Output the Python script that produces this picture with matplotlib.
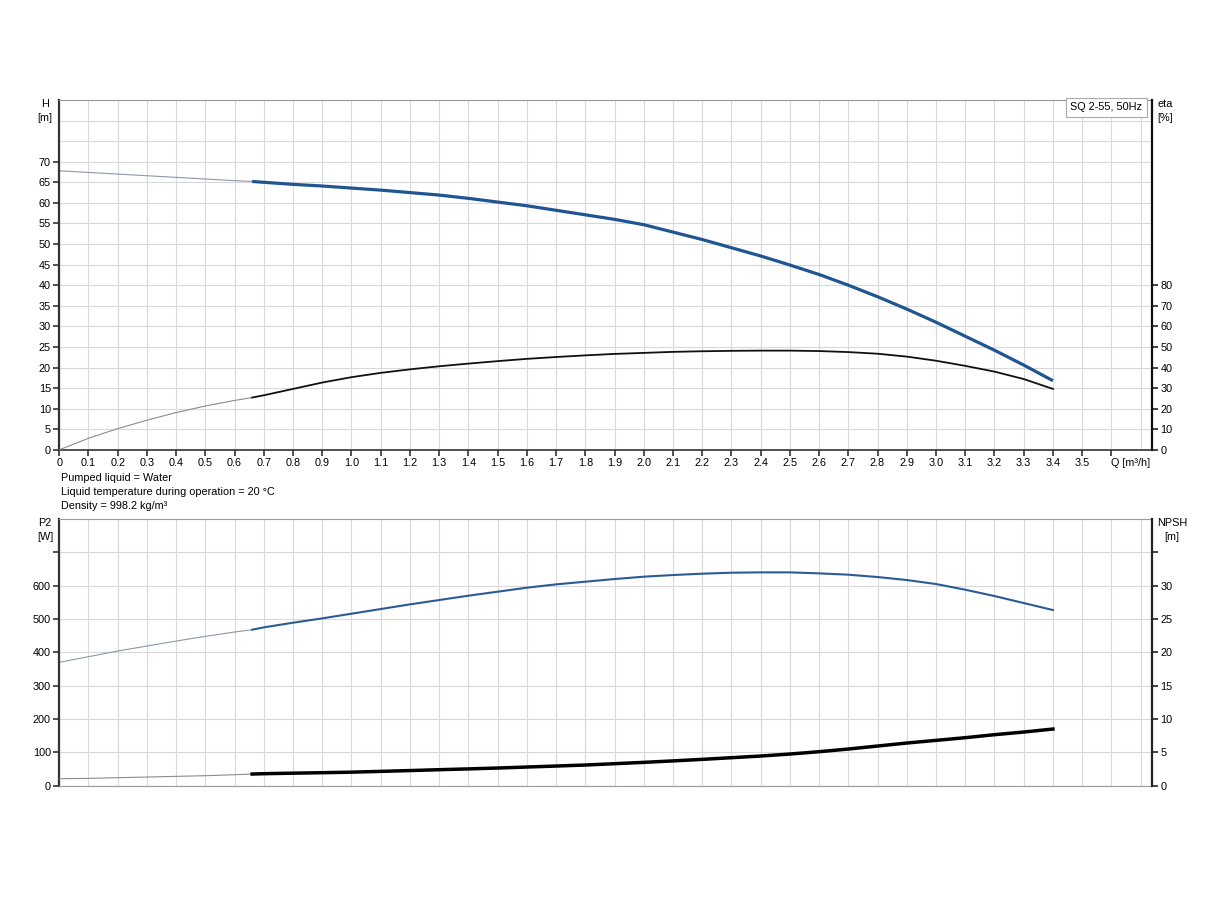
import numpy as np
import matplotlib
matplotlib.use("Agg")
import matplotlib.pyplot as plt

plt.rcParams['font.family'] = ['Liberation Sans', 'DejaVu Sans']
plt.rcParams['font.size'] = 7.8

# Flow points (m3/h); duty range starts at q_start
q = [0, 0.1, 0.2, 0.3, 0.4, 0.5, 0.6, 0.66, 0.7, 0.8, 0.9, 1.0, 1.1, 1.2, 1.3,
     1.4, 1.5, 1.6, 1.7, 1.8, 1.9, 2.0, 2.1, 2.2, 2.3, 2.4, 2.5, 2.6, 2.7, 2.8,
     2.9, 3.0, 3.1, 3.2, 3.3, 3.4]
q_start = 0.66

# Head H [m]
head = [67.8, 67.4, 67.0, 66.6, 66.2, 65.8, 65.4, 65.2, 65.0, 64.5, 64.1, 63.6,
        63.1, 62.5, 61.9, 61.1, 60.2, 59.3, 58.2, 57.1, 56.0, 54.7, 52.9, 51.1,
        49.1, 47.1, 44.9, 42.6, 40.0, 37.2, 34.2, 31.0, 27.6, 24.2, 20.6, 16.8]
# Efficiency eta [%]
eta = [0, 5.6, 10.3, 14.4, 18.1, 21.3, 24.0, 25.4, 26.5, 29.6, 32.7, 35.3, 37.4,
       39.1, 40.6, 41.9, 43.1, 44.2, 45.1, 45.9, 46.6, 47.1, 47.6, 47.9, 48.1,
       48.2, 48.2, 48.0, 47.5, 46.7, 45.3, 43.3, 40.8, 38.0, 34.4, 29.6]
# Shaft power P2 [W]
p2 = [370, 387, 404, 419, 434, 448, 461, 468, 475, 489, 502, 516, 530, 544, 557,
      570, 582, 594, 604, 612, 620, 627, 632, 636, 639, 640, 640, 637, 633, 626,
      617, 605, 588, 569, 548, 527]
# NPSH [m]
npsh = [1.05, 1.1, 1.2, 1.3, 1.4, 1.5, 1.65, 1.75, 1.8, 1.88, 1.95, 2.03, 2.15,
        2.27, 2.4, 2.52, 2.65, 2.8, 2.95, 3.1, 3.3, 3.5, 3.72, 3.95, 4.2, 4.45,
        4.75, 5.1, 5.5, 5.95, 6.4, 6.8, 7.2, 7.65, 8.05, 8.5]

x_ticks = [round(0.1 * i, 1) for i in range(37)]
x_labels = ['0'] + [f'{v:.1f}' for v in x_ticks[1:-1]] + ['Q [m³/h]']
h_ticks = list(range(0, 75, 5))
eta_ticks = list(range(0, 90, 10))
p2_ticks = list(range(0, 800, 100))
npsh_ticks = list(range(0, 40, 5))
info_lines = ['Pumped liquid = Water',
              'Liquid temperature during operation = 20 °C',
              'Density = 998.2 kg/m³']

blue = '#1f5591'
faint_blue = '#8a98aa'
faint_black = '#8c8c8c'
grid_c = '#d9d9d9'
fs = 7.8

q = np.array(q)
split = int(np.argmax(q >= q_start))
faint = slice(0, split + 1)
bold = slice(split, None)

fig = plt.figure(figsize=(12.24, 9), dpi=100)
left, width = 0.0484, 0.8930
ax_top = fig.add_axes([left, 0.5002, width, 0.3887])
ax_bot = fig.add_axes([left, 0.1270, width, 0.2963])


def style_axes(ax, yticks, ymax, grid_minor):
    ax.set_xlim(0, 3.74)
    ax.set_ylim(0, ymax)
    ax.set_xticks(x_ticks)
    ax.set_xticks([3.7], minor=True)
    ax.set_yticks(yticks)
    ax.set_yticks(grid_minor, minor=True)
    ax.grid(True, which='both', color=grid_c, lw=0.8)
    ax.set_axisbelow(True)
    ax.tick_params(which='minor', length=0)
    ax.tick_params(which='major', length=4, width=1.2, color='#333333',
                   labelsize=fs, pad=2)
    ax.spines['left'].set_color('#333333')
    ax.spines['left'].set_linewidth(1.6)
    ax.spines['top'].set_color('#999999')
    ax.spines['right'].set_visible(False)


# ---- top: head and efficiency ----
style_axes(ax_top, h_ticks, 85, [75, 80])
ax_top.set_xticklabels(x_labels)
ax_top.get_xticklabels()[-1].set_horizontalalignment('left')
ax_top.spines['bottom'].set_color('#333333')
ax_top.spines['bottom'].set_linewidth(1.2)
ax_top.plot(q[faint], np.array(head)[faint], color=faint_blue, lw=0.8)
ax_top.plot(q[bold], np.array(head)[bold], color=blue, lw=2.3,
            solid_capstyle='butt', solid_joinstyle='round')

ax_eta = ax_top.twinx()
ax_eta.set_ylim(0, 170)
ax_eta.set_yticks(eta_ticks)
ax_eta.tick_params(length=4, width=1.2, color='#222222', labelsize=fs, pad=2)
for s in ['left', 'top', 'bottom']:
    ax_eta.spines[s].set_visible(False)
ax_eta.spines['right'].set_color('#111111')
ax_eta.spines['right'].set_linewidth(1.6)
ax_eta.plot(q[faint], np.array(eta)[faint], color=faint_black, lw=0.8)
ax_eta.plot(q[bold], np.array(eta)[bold], color='#111111', lw=1.3,
            solid_joinstyle='round')

ax_top.text(0.991, 0.993, 'SQ 2-55, 50Hz', transform=ax_top.transAxes,
            ha='right', va='top', fontsize=fs, zorder=10,
            bbox=dict(boxstyle='square,pad=0.4', fc='white', ec='#aaaaaa',
                      lw=0.8))

# ---- bottom: power and NPSH ----
style_axes(ax_bot, p2_ticks, 800, [])
ax_bot.set_yticklabels([str(v) if v < 700 else '' for v in p2_ticks])
ax_bot.tick_params(axis='x', length=0, labelbottom=False)
ax_bot.spines['bottom'].set_color('#999999')
ax_bot.plot(q[faint], np.array(p2)[faint], color=faint_blue, lw=0.8)
ax_bot.plot(q[bold], np.array(p2)[bold], color='#2b5b97', lw=1.5,
            solid_joinstyle='round')

ax_npsh = ax_bot.twinx()
ax_npsh.set_ylim(0, 40)
ax_npsh.set_yticks(npsh_ticks)
ax_npsh.set_yticklabels([str(v) if v < 35 else '' for v in npsh_ticks])
ax_npsh.tick_params(length=4, width=1.2, color='#222222', labelsize=fs, pad=2)
for s in ['left', 'top', 'bottom']:
    ax_npsh.spines[s].set_visible(False)
ax_npsh.spines['right'].set_color('#222222')
ax_npsh.spines['right'].set_linewidth(1.6)
ax_npsh.plot(q[faint], np.array(npsh)[faint], color=faint_black, lw=0.8)
ax_npsh.plot(q[bold], np.array(npsh)[bold], color='#000000', lw=2.5,
             solid_joinstyle='round')

# ---- axis captions ----
fig.text(45 / 1224, 1 - 111 / 900, 'H\n[m]', ha='center', va='center',
         fontsize=fs, linespacing=1.45)
fig.text(1157 / 1224, 1 - 111 / 900, 'eta\n[%]', ha='left', va='center',
         fontsize=fs, linespacing=1.45)
fig.text(45 / 1224, 1 - 530 / 900, 'P2\n[W]', ha='center', va='center',
         fontsize=fs, linespacing=1.45)
fig.text(1172 / 1224, 1 - 530 / 900, 'NPSH\n[m]', ha='center', va='center',
         fontsize=fs, linespacing=1.45)

for i, line in enumerate(info_lines):
    fig.text(61 / 1224, 1 - (478 + 14 * i) / 900, line, ha='left',
             va='center', fontsize=fs)

fig.savefig('out.png', dpi=100)
